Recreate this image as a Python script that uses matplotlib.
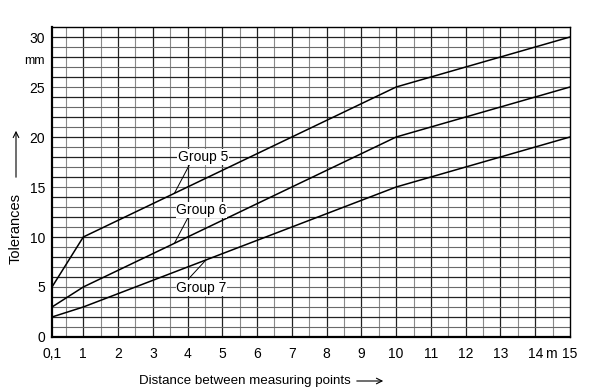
"""
Tolerances vs. distance between measuring points (Groups 5, 6, 7)
"""

import numpy as np
import matplotlib
matplotlib.use('Agg')
import matplotlib.pyplot as plt

plt.rcParams['font.family'] = ['Liberation Sans', 'DejaVu Sans']

# Data (distance in m, tolerance in mm)
dist = [0.1, 1, 10, 15]
group5 = [5, 10, 25, 30]
group6 = [3, 5, 20, 25]
group7 = [2, 3, 15, 20]

x_ticks = [0.1, 1, 2, 3, 4, 5, 6, 7, 8, 9, 10, 11, 12, 13, 14, 15]
x_labels = ['0,1', '1', '2', '3', '4', '5', '6', '7', '8', '9', '10',
            '11', '12', '13', '14', '15']
y_ticks = [0, 5, 10, 15, 20, 25, 30]

# label text position, leader start, leader end (x on the curve)
labels = [
    ('Group 5', group5, (4.45, 18.0), (4.05, 17.2), 3.62),
    ('Group 6', group6, (4.40, 12.7), (4.02, 12.0), 3.62),
    ('Group 7', group7, (4.40, 4.9), (4.05, 5.9), 4.53),
]

fig = plt.figure(figsize=(5.91, 3.90), dpi=100)
ax = fig.add_axes([52 / 591, 1 - 337 / 390, 518 / 591, 310 / 390])

ax.set_xlim(0.1, 15)
ax.set_ylim(0, 31)

# Grid paper: minor lines every 0.5 m / 1 mm, darker lines on full units
for xv in np.arange(0.5, 15, 0.5):
    major = float(xv).is_integer()
    ax.axvline(xv, color='#222222' if major else '#8a8a8a',
               linewidth=0.9 if major else 0.8, zorder=1)
for yv in range(1, 31):
    major = yv % 2 == 0
    ax.axhline(yv, color='#222222' if major else '#6a6a6a',
               linewidth=0.9 if major else 0.8, zorder=1)

# Curves
for name, vals, _, _, _ in labels:
    ax.plot(dist, vals, color='black', linewidth=1.1, zorder=3)

# Group labels with leader lines
for name, vals, txt, start, end_x in labels:
    end_y = np.interp(end_x, dist, vals)
    ax.plot([start[0], end_x], [start[1], end_y], color='black',
            linewidth=0.7, zorder=3)
    ax.text(txt[0], txt[1], name, fontsize=10, ha='center', va='center',
            zorder=4, bbox=dict(facecolor='white', edgecolor='none', pad=0.5))

for side in ['top', 'right']:
    ax.spines[side].set_linewidth(1.0)
for side in ['left', 'bottom']:
    ax.spines[side].set_linewidth(1.6)

ax.set_xticks(x_ticks)
ax.set_xticklabels(x_labels)
ax.set_yticks(y_ticks)
ax.tick_params(length=0, labelsize=10)
ax.tick_params(axis='x', pad=7)
ax.tick_params(axis='y', pad=5)

# unit labels
ax.text(-0.12, 27.6, 'mm', fontsize=9, ha='right', va='center')
ax.annotate('m', xy=(14.45, 0), xycoords=('data', 'axes fraction'),
            xytext=(0, -7), textcoords='offset points',
            fontsize=10, ha='center', va='top')

# axis titles with arrows
fig.text(16 / 591, 1 - 228 / 390, 'Tolerances', rotation=90, fontsize=10.5,
         ha='center', va='center')
ax.annotate('', xy=(16 / 591, 1 - 128 / 390), xytext=(16 / 591, 1 - 180 / 390),
            xycoords='figure fraction', textcoords='figure fraction',
            arrowprops=dict(arrowstyle='->', color='black', linewidth=0.8))
fig.text(245 / 591, 1 - 381 / 390, 'Distance between measuring points',
         fontsize=9.6, ha='center', va='center')
ax.annotate('', xy=(386 / 591, 1 - 381 / 390), xytext=(354 / 591, 1 - 381 / 390),
            xycoords='figure fraction', textcoords='figure fraction',
            arrowprops=dict(arrowstyle='->', color='black', linewidth=0.8))

plt.savefig('out.png', dpi=100)
plt.close()
